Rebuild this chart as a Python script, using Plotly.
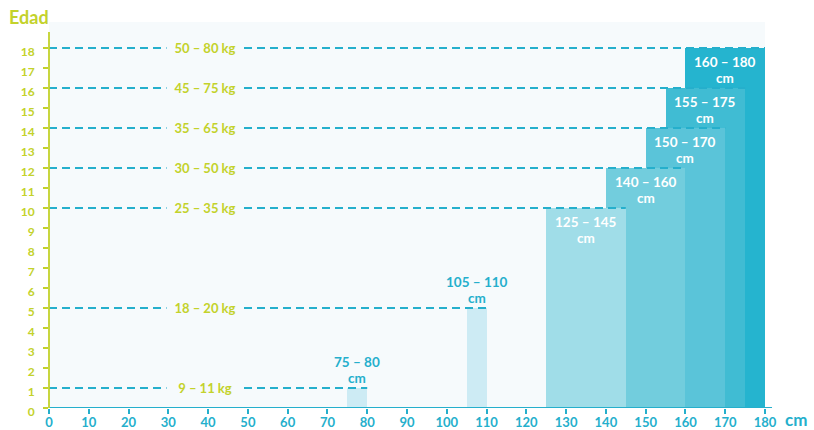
import plotly.graph_objects as go

# ---- data ----
ages = [1, 5, 10, 12, 14, 16, 18]
cm_low = [75, 105, 125, 140, 150, 155, 160]
cm_high = [80, 110, 145, 160, 170, 175, 180]
kg_labels = ["9 – 11 kg", "18 – 20 kg", "25 – 35 kg", "30 – 50 kg",
             "35 – 65 kg", "45 – 75 kg", "50 – 80 kg"]
cm_labels = ["75 – 80", "105 – 110", "125 – 145", "140 – 160",
             "150 – 170", "155 – 175", "160 – 180"]
unit_label = "cm"
x_ticks = list(range(0, 181, 10))
y_ticks = list(range(0, 19))

# ---- styles ----
GREEN = "#c3d22b"
CYAN = "#25afcc"
PLOT_BG = "#f6fafc"
bar_colors = ["#cdebf4", "#cdebf4", "#a0dde8", "#72cddd", "#5ac4d9", "#40bcd3", "#25b4cf"]
FONT = "Lato"
KG_X = 39.3

fig = go.Figure()

# bars: draw largest first so shorter bars sit on top
for i in reversed(range(len(ages))):
    lo, hi = cm_low[i], cm_high[i]
    fig.add_trace(go.Bar(
        x=[(lo + hi) / 2], y=[ages[i]], width=[hi - lo], base=0,
        marker=dict(color=bar_colors[i], line=dict(width=0)),
        hoverinfo="skip", showlegend=False,
    ))

# dashed reference lines from the axis to the right edge of each bar
for i in range(len(ages)):
    fig.add_trace(go.Scatter(
        x=[0, cm_high[i]], y=[ages[i], ages[i]], mode="lines",
        line=dict(color=CYAN, width=1.8, dash="8px,5px"),
        hoverinfo="skip", showlegend=False,
    ))

annotations = []
# kg labels over the dashed lines
for i in range(len(ages)):
    annotations.append(dict(
        x=KG_X, y=ages[i], xref="x", yref="y", text=kg_labels[i], showarrow=False,
        font=dict(family=FONT, size=13, color=GREEN, weight="bold"),
        bgcolor=PLOT_BG, width=74, height=14, xanchor="center", yanchor="middle",
    ))

# cm labels (two lines, each its own annotation for tighter line spacing)
for i in range(len(ages)):
    cx = (cm_low[i] + cm_high[i]) / 2
    if i < 2:
        col, l1, l2 = CYAN, 26, 10
    else:
        col, l1, l2 = "white", -14, -30
    for txt, ys in ((cm_labels[i], l1), (unit_label, l2)):
        annotations.append(dict(
            x=cx, y=ages[i], xref="x", yref="y", text=txt, showarrow=False,
            font=dict(family=FONT, size=13.5, color=col, weight="bold"),
            xanchor="center", yanchor="middle", yshift=ys, borderpad=0,
        ))

# axis titles
annotations.append(dict(
    x=-0.0587, y=1.013, xref="paper", yref="paper", text="Edad", showarrow=False,
    font=dict(family=FONT, size=18, color=GREEN, weight="bold"),
    xanchor="left", yanchor="middle",
))
annotations.append(dict(
    x=1.0265, y=-0.0285, xref="paper", yref="paper", text="cm", showarrow=False,
    font=dict(family=FONT, size=17, color=CYAN, weight="bold"),
    xanchor="left", yanchor="middle", borderpad=0,
))

shapes = [
    # x axis line (extends slightly past 180)
    dict(type="line", xref="paper", yref="y", x0=0, x1=1.0098, y0=0, y1=0,
         line=dict(color=CYAN, width=1.8), layer="above"),
    # y axis line
    dict(type="line", xref="paper", yref="y", x0=0, x1=0, y0=0, y1=18.8,
         line=dict(color=GREEN, width=1.8), layer="above"),
]

fig.update_layout(
    width=814, height=430,
    margin=dict(l=49, r=49, t=22, b=22, autoexpand=False),
    paper_bgcolor="white", plot_bgcolor=PLOT_BG,
    barmode="overlay", bargap=0,
    annotations=annotations, shapes=shapes,
    xaxis=dict(
        range=[0, 180], tickvals=x_ticks, ticktext=[str(v) for v in x_ticks],
        ticks="outside", ticklen=5, tickwidth=1.5, tickcolor=CYAN,
        showgrid=False, zeroline=False, showline=False, automargin=False,
        tickfont=dict(family=FONT, size=13, color=CYAN, weight="bold"),
        ticklabelstandoff=-3,
        fixedrange=True,
    ),
    yaxis=dict(
        range=[0, 19.3], tickvals=y_ticks, ticktext=[str(v) for v in y_ticks],
        ticks="outside", ticklen=5, tickwidth=1.5, tickcolor=GREEN,
        showgrid=False, zeroline=False, showline=False, automargin=False,
        tickfont=dict(family=FONT, size=12, color=GREEN, weight="bold"),
        ticklabelstandoff=6, ticklabelshift=4,
        fixedrange=True,
    ),
)

fig.write_html("out.html")
